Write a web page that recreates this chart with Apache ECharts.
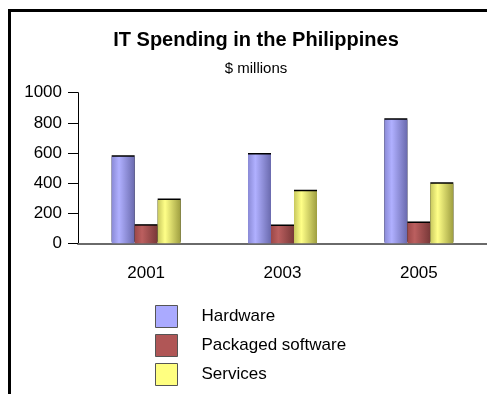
<!DOCTYPE html>
<html>
<head>
<meta charset="utf-8">
<script src="https://cdn.jsdelivr.net/npm/echarts@6/dist/echarts.min.js"></script>
<style>
  html, body { margin: 0; padding: 0; background: #fff; }
  #chart { width: 487px; height: 394px; }
</style>
</head>
<body>
<div id="chart"></div>
<script>
// IT spending by segment, $ millions
const years = ['2001', '2003', '2005'];
const hardware = [575, 590, 820];
const packagedSoftware = [117, 115, 135];
const services = [288, 345, 396];
const yTicks = [0, 200, 400, 600, 800, 1000];

const FONT = 'Liberation Sans, Arial, sans-serif';

function cylinder(left, light, right) {
  return {
    type: 'linear', x: 0, y: 0, x2: 1, y2: 0,
    colorStops: [
      { offset: 0, color: left },
      { offset: 0.32, color: light },
      { offset: 1, color: right }
    ]
  };
}

function barSeries(name, data, fill) {
  return {
    name: name,
    type: 'bar',
    data: data,
    barWidth: 23,
    barGap: '0%',
    itemStyle: {
      color: fill,
      shadowColor: '#000',
      shadowBlur: 0,
      shadowOffsetY: -1.5
    },
    emphasis: { disabled: true }
  };
}

function legendItem(name, color) {
  return {
    name: name,
    itemStyle: { color: color, borderColor: '#555', borderWidth: 1, shadowOffsetY: 0, shadowColor: 'transparent' }
  };
}

const chart = echarts.init(document.getElementById('chart'), null, { renderer: 'canvas' });

chart.setOption({
  backgroundColor: '#fff',
  animation: false,
  textStyle: { fontFamily: FONT },
  graphic: [
    {
      type: 'rect',
      shape: { x: 9.5, y: 10.5, width: 600, height: 600 },
      style: { fill: 'none', stroke: '#000', lineWidth: 3 },
      silent: true
    },
    {
      type: 'text',
      x: 256, y: 40,
      style: {
        text: 'IT Spending in the Philippines',
        font: 'bold 20px ' + FONT,
        fill: '#000',
        textAlign: 'center',
        textVerticalAlign: 'middle'
      }
    },
    {
      type: 'text',
      x: 256, y: 69,
      style: {
        text: '$ millions',
        font: '15px ' + FONT,
        fill: '#000',
        textAlign: 'center',
        textVerticalAlign: 'middle'
      }
    }
  ],
  grid: { left: 78, top: 92.7, right: -8, bottom: 150.7, containLabel: false },
  legend: {
    orient: 'vertical',
    left: 155,
    top: 305,
    height: 85,
    padding: 0,
    itemWidth: 22,
    itemHeight: 22,
    itemGap: 6,
    icon: 'rect',
    textStyle: { fontSize: 17, color: '#000', fontFamily: FONT, padding: [2, 0, 0, 19] },
    data: [
      legendItem('Hardware', '#aaaaff'),
      legendItem('Packaged software', '#b05656'),
      legendItem('Services', '#ffff80')
    ]
  },
  xAxis: {
    type: 'category',
    data: years,
    axisLine: { lineStyle: { color: '#6a6a6a', width: 2 } },
    axisTick: { alignWithLabel: true, length: 10, lineStyle: { color: '#555', width: 1 } },
    axisLabel: { fontSize: 17, color: '#000', margin: 22, fontFamily: FONT }
  },
  yAxis: {
    type: 'value',
    min: yTicks[0],
    max: yTicks[yTicks.length - 1],
    interval: yTicks[1] - yTicks[0],
    splitLine: { show: false },
    axisLine: { show: true, lineStyle: { color: '#000', width: 1 } },
    axisTick: { show: true, length: 10, lineStyle: { color: '#000', width: 1 } },
    axisLabel: {
      fontSize: 17, color: '#000', margin: 16, fontFamily: FONT,
      formatter: function (v) { return String(v); }
    }
  },
  series: [
    barSeries('Hardware', hardware, cylinder('#8a8ad6', '#b0b0ff', '#6a6aae')),
    barSeries('Packaged software', packagedSoftware, cylinder('#9c4848', '#bb5f5f', '#783838')),
    barSeries('Services', services, cylinder('#c8c85e', '#ffff88', '#9e9e40'))
  ]
});
</script>
</body>
</html>
